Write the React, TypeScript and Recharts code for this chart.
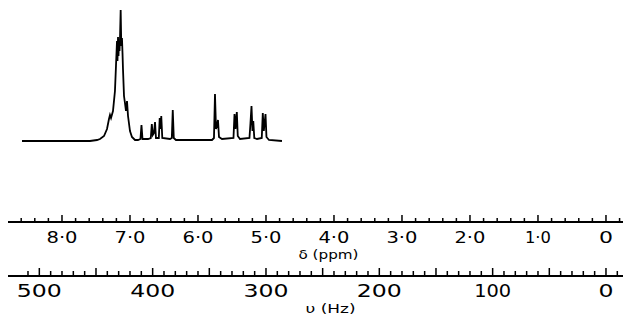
import { LineChart, Line, XAxis, YAxis } from 'recharts';

// Pen trace: [chemical shift (ppm), pen height above baseline]
const TRACE: [number, number][] = [
  [8.588, 0], [7.588, 0], [7.485, 1], [7.441, 2], [7.382, 5], [7.338, 12],
  [7.309, 22], [7.294, 26], [7.279, 23], [7.25, 30], [7.221, 50], [7.206, 75],
  [7.191, 100], [7.184, 80], [7.176, 104], [7.169, 85], [7.162, 100], [7.154, 90],
  [7.147, 102], [7.137, 131], [7.128, 95], [7.118, 103], [7.11, 88], [7.103, 72],
  [7.088, 45], [7.074, 38], [7.059, 30], [7.044, 40], [7.029, 25], [7.0, 10],
  [6.971, 4], [6.926, 1],
  [6.882, 1], [6.846, 2], [6.831, 16], [6.816, 2],
  [6.735, 2], [6.694, 3], [6.679, 17], [6.665, 6], [6.647, 8], [6.632, 19], [6.618, 3],
  [6.576, 3], [6.563, 23], [6.551, 12], [6.54, 25], [6.525, 3],
  [6.412, 2], [6.385, 3], [6.371, 31], [6.356, 3], [6.324, 1],
  [5.794, 1], [5.765, 3], [5.75, 47], [5.735, 12], [5.721, 15], [5.706, 21], [5.691, 4], [5.647, 2],
  [5.478, 3], [5.463, 27], [5.449, 12], [5.429, 29], [5.415, 5], [5.382, 2],
  [5.243, 3], [5.228, 18], [5.213, 35], [5.199, 10], [5.187, 20], [5.172, 3], [5.132, 2],
  [5.062, 3], [5.047, 28], [5.032, 10], [5.007, 27], [4.993, 4], [4.956, 1], [4.765, 0],
];

const PPM_LABELS = [8, 7, 6, 5, 4, 3, 2, 1, 0];
const HZ_LABELS = [500, 400, 300, 200, 100, 0];
const MHZ = 60; // 60 MHz spectrometer: 1 ppm = 60 Hz

const PPM_TICKS = Array.from({ length: 45 }, (_, i) => +(8.6 - i * 0.2).toFixed(1));
const HZ_TICKS = Array.from({ length: 53 }, (_, i) => 510 - i * 10);

const PPM_DOMAIN = [-0.368, 8.794];
const HZ_DOMAIN = [PPM_DOMAIN[0] * MHZ, PPM_DOMAIN[1] * MHZ];

const data = TRACE.map(([ppm, h]) => ({ ppm, hz: ppm * MHZ, h }));

const FONT = '"DejaVu Sans", sans-serif';

const ppmText = (v: number) => (v === 0 ? '0' : `${v}\u00b70`);
const ppmWidth = (v: number) => (v === 0 ? 14 : v === 1 ? 26 : 31);
const hzWidth = (v: number) => (v === 0 ? 15 : v === 100 ? 37 : 45);

const PpmTick = ({ x, y, payload }: any) => {
  const v = payload.value;
  const major = Math.abs(v - Math.round(v)) < 1e-6;
  return (
    <g>
      <line x1={x} x2={x} y1={y} y2={y - (major ? 7 : 4)} stroke="#000" strokeWidth={1.5} />
      {major && PPM_LABELS.includes(Math.round(v)) && (
        <text x={x} y={y + 21} textAnchor="middle" fontFamily={FONT} fontSize={16} fill="#000"
          textLength={ppmWidth(Math.round(v))} lengthAdjust="spacingAndGlyphs">
          {ppmText(Math.round(v))}
        </text>
      )}
    </g>
  );
};

const HzTick = ({ x, y, payload }: any) => {
  const v = payload.value;
  const major = v % 50 === 0;
  return (
    <g>
      <line x1={x} x2={x} y1={y} y2={y - (major ? 8 : 5)} stroke="#000" strokeWidth={1.5} />
      {HZ_LABELS.includes(v) && (
        <text x={x} y={y + 21} textAnchor="middle" fontFamily={FONT} fontSize={18} fill="#000"
          textLength={hzWidth(v)} lengthAdjust="spacingAndGlyphs">
          {v}
        </text>
      )}
    </g>
  );
};

const axisName = (text: string, dx: number, dy: number, len: number) => (props: any) => {
  const vb = props.viewBox;
  return (
    <text x={vb.x + vb.width / 2 + dx} y={vb.y + dy} textAnchor="middle"
      fontFamily={FONT} fontSize={13} fill="#000" textLength={len} lengthAdjust="spacingAndGlyphs">
      {text}
    </text>
  );
};

// axis ids sort "a" (ppm, next to the trace) before "b" (Hz, underneath)
export default function App() {
  return (
    <LineChart width={623} height={313} data={data} margin={{ top: 2, right: 0, bottom: 0, left: 0 }}>
      <XAxis xAxisId="a" dataKey="ppm" type="number" domain={PPM_DOMAIN} reversed allowDataOverflow
        ticks={PPM_TICKS} interval={0} tickSize={0} tickMargin={0} tickLine={false}
        axisLine={{ stroke: '#000', strokeWidth: 2 }} height={54} tick={PpmTick}
        label={{ content: axisName('δ (ppm)', 9, 37, 60) }} />
      <XAxis xAxisId="b" dataKey="hz" type="number" domain={HZ_DOMAIN} reversed allowDataOverflow
        ticks={HZ_TICKS} interval={0} tickSize={0} tickMargin={0} tickLine={false}
        axisLine={{ stroke: '#000', strokeWidth: 2 }} height={45} tick={HzTick}
        label={{ content: axisName('υ (Hz)', 11, 37, 50) }} />
      <YAxis hide type="number" domain={[-81, 131]} allowDataOverflow />
      <Line xAxisId="a" type="linear" dataKey="h" stroke="#000" strokeWidth={1.8}
        dot={false} isAnimationActive={false} />
    </LineChart>
  );
}
